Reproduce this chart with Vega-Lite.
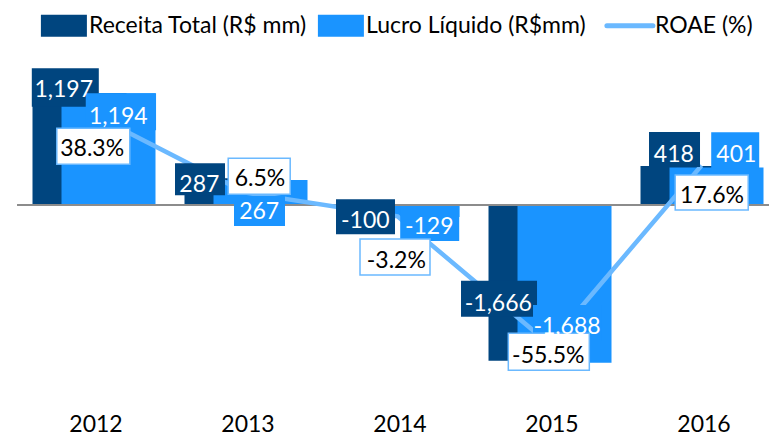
{
  "$schema": "https://vega.github.io/schema/vega-lite/v6.json",
  "width": 751.5,
  "height": 350,
  "autosize": {"type": "none"},
  "padding": {"left": 17.5, "top": 50, "right": 0, "bottom": 36},
  "background": "white",
  "config": {
    "view": {"stroke": null},
    "font": "Lato",
    "locale": {"number": {"decimal": ".", "thousands": ",", "grouping": [3], "currency": ["$", ""], "minus": "-"}}
  },
  "data": {
    "values": [
      {"ano": 2012, "receita": 1197, "lucro": 1194, "roae": 0.383},
      {"ano": 2013, "receita": 287, "lucro": 267, "roae": 0.065},
      {"ano": 2014, "receita": -100, "lucro": -129, "roae": -0.032},
      {"ano": 2015, "receita": -1666, "lucro": -1688, "roae": -0.555},
      {"ano": 2016, "receita": 418, "lucro": 401, "roae": 0.176}
    ]
  },
  "encoding": {
    "x": {
      "field": "ano", "type": "quantitative",
      "scale": {"domain": [2011.5, 2016.444], "nice": false, "zero": false, "padding": 0},
      "axis": {"values": [2012, 2013, 2014, 2015, 2016], "format": "d", "grid": false, "domain": false, "ticks": false, "tickSize": 0, "labelPadding": 13, "labelFont": "Lato", "labelFontSize": 23, "labelColor": "#000000", "labelOffset": 2, "title": null, "labelFlush": false, "labelOverlap": false}
    }
  },
  "layer": [
    {
      "mark": {"type": "bar", "orient": "vertical", "width": 94, "xOffset": -14},
      "encoding": {
        "y": {"field": "receita", "type": "quantitative", "scale": {"domain": [-2085.6, 1657.8], "nice": false}, "axis": null},
        "color": {
          "datum": "Receita Total (R$ mm)", "type": "nominal",
          "scale": {"domain": ["Receita Total (R$ mm)", "Lucro Líquido (R$mm)", "ROAE (%)"], "range": ["#00457F", "#1A94FF", "#6BB9FF"]},
          "legend": {
            "orient": "none", "legendX": 39.5, "legendY": -36, "direction": "horizontal", "title": null,
            "symbolSize": 2116, "labelFont": "Lato", "labelFontSize": 23, "labelColor": "#000000", "labelLimit": 400,
            "columnPadding": 10, "labelOffset": 9,
            "encode": {
              "symbols": {
                "update": {
                  "shape": {"signal": "datum.label === 'ROAE (%)' ? 'M-1.2,0H0.8' : 'M-1.2,-0.478H0.8V0.478H-1.2Z'"},
                  "fill": {"signal": "datum.label === 'ROAE (%)' ? 'transparent' : scale('color', datum.value)"},
                  "stroke": {"signal": "datum.label === 'ROAE (%)' ? scale('color', datum.value) : 'transparent'"},
                  "strokeWidth": {"signal": "datum.label === 'ROAE (%)' ? 5 : 0"},
                  "strokeCap": {"value": "round"},
                  "opacity": {"value": 1}
                }
              }
            }
          }
        }
      }
    },
    {
      "mark": {"type": "bar", "orient": "vertical", "width": 94, "xOffset": 15},
      "encoding": {
        "y": {"field": "lucro", "type": "quantitative", "scale": {"domain": [-2085.6, 1657.8], "nice": false}, "axis": null},
        "color": {"datum": "Lucro Líquido (R$mm)", "type": "nominal", "scale": {"domain": ["Receita Total (R$ mm)", "Lucro Líquido (R$mm)", "ROAE (%)"], "range": ["#00457F", "#1A94FF", "#6BB9FF"]}}
      }
    },
    {
      "mark": {"type": "rule", "color": "#8C8C8C", "strokeWidth": 2},
      "encoding": {
        "x": {"value": 0},
        "x2": {"value": "width"},
        "y": {"datum": 0, "type": "quantitative", "scale": {"domain": [-2085.6, 1657.8], "nice": false}, "axis": null}
      }
    },
    {
      "mark": {"type": "line", "strokeWidth": 4.5},
      "encoding": {
        "y": {"field": "roae", "type": "quantitative", "scale": {"domain": [-0.783, 0.648], "nice": false}, "axis": null},
        "color": {"datum": "ROAE (%)", "type": "nominal", "scale": {"domain": ["Receita Total (R$ mm)", "Lucro Líquido (R$mm)", "ROAE (%)"], "range": ["#00457F", "#1A94FF", "#6BB9FF"]}}
      }
    },
    {
      "encoding": {"y": {"field": "receita", "type": "quantitative", "scale": {"domain": [-2085.6, 1657.8], "nice": false}, "axis": null}},
      "layer": [
        {"transform": [{"filter": "datum.ano == 2012"}], "mark": {"type": "point", "shape": "M-0.67,-0.384H0.67V0.384H-0.67Z", "size": 10000, "filled": true, "fill": "#00457F", "opacity": 1, "strokeWidth": 0, "xOffset": -28.2, "yOffset": -5.6}},
        {"transform": [{"filter": "datum.ano == 2013"}], "mark": {"type": "point", "shape": "M-0.5,-0.32H0.5V0.32H-0.5Z", "size": 10000, "filled": true, "fill": "#00457F", "opacity": 1, "strokeWidth": 0, "xOffset": -45.5, "yOffset": 1}},
        {"transform": [{"filter": "datum.ano == 2014"}], "mark": {"type": "point", "shape": "M-0.59,-0.35H0.59V0.35H-0.59Z", "size": 10000, "filled": true, "fill": "#00457F", "opacity": 1, "strokeWidth": 0, "xOffset": -32, "yOffset": 2.4}},
        {"transform": [{"filter": "datum.ano == 2015"}], "mark": {"type": "point", "shape": "M-0.76,-0.36H0.76V0.36H-0.76Z", "size": 10000, "filled": true, "fill": "#00457F", "opacity": 1, "strokeWidth": 0, "xOffset": -50.5, "yOffset": -62}},
        {"transform": [{"filter": "datum.ano == 2016"}], "mark": {"type": "point", "shape": "M-0.51,-0.35H0.51V0.35H-0.51Z", "size": 10000, "filled": true, "fill": "#00457F", "opacity": 1, "strokeWidth": 0, "xOffset": -27, "yOffset": -16.4}}
      ]
    },
    {
      "encoding": {"y": {"field": "lucro", "type": "quantitative", "scale": {"domain": [-2085.6, 1657.8], "nice": false}, "axis": null}},
      "layer": [
        {"transform": [{"filter": "datum.ano == 2012"}], "mark": {"type": "point", "shape": "M-0.703,-0.37H0.703V0.37H-0.703Z", "size": 10000, "filled": true, "fill": "#1A94FF", "opacity": 1, "strokeWidth": 0, "xOffset": 27.4, "yOffset": 18.3}},
        {"transform": [{"filter": "datum.ano == 2013"}], "mark": {"type": "point", "shape": "M-0.51,-0.3H0.51V0.3H-0.51Z", "size": 10000, "filled": true, "fill": "#1A94FF", "opacity": 1, "strokeWidth": 0, "xOffset": 14, "yOffset": 31}},
        {"transform": [{"filter": "datum.ano == 2014"}], "mark": {"type": "point", "shape": "M-0.59,-0.35H0.59V0.35H-0.59Z", "size": 10000, "filled": true, "fill": "#1A94FF", "opacity": 1, "strokeWidth": 0, "xOffset": 32.2, "yOffset": 6.4}},
        {"transform": [{"filter": "datum.ano == 2015"}], "mark": {"type": "point", "shape": "M-0.68,-0.36H0.68V0.36H-0.68Z", "size": 10000, "filled": true, "fill": "#1A94FF", "opacity": 1, "strokeWidth": 0, "xOffset": 17.5, "yOffset": -39.8}},
        {"transform": [{"filter": "datum.ano == 2016"}], "mark": {"type": "point", "shape": "M-0.48,-0.36H0.48V0.36H-0.48Z", "size": 10000, "filled": true, "fill": "#1A94FF", "opacity": 1, "strokeWidth": 0, "xOffset": 33.7, "yOffset": -17.2}}
      ]
    },
    {
      "encoding": {"y": {"field": "roae", "type": "quantitative", "scale": {"domain": [-0.783, 0.648], "nice": false}, "axis": null}},
      "layer": [
        {"transform": [{"filter": "datum.ano == 2012"}], "mark": {"type": "point", "shape": "M-0.73,-0.36H0.73V0.36H-0.73Z", "size": 10000, "filled": true, "fill": "#FFFFFF", "stroke": "#6BB9FF", "strokeWidth": 1.5, "opacity": 1, "xOffset": -0.2, "yOffset": 31.4}},
        {"transform": [{"filter": "datum.ano == 2013"}], "mark": {"type": "point", "shape": "M-0.62,-0.36H0.62V0.36H-0.62Z", "size": 10000, "filled": true, "fill": "#FFFFFF", "stroke": "#6BB9FF", "strokeWidth": 1.5, "opacity": 1, "xOffset": 13.7, "yOffset": -16.4}},
        {"transform": [{"filter": "datum.ano == 2014"}], "mark": {"type": "point", "shape": "M-0.7,-0.36H0.7V0.36H-0.7Z", "size": 10000, "filled": true, "fill": "#FFFFFF", "stroke": "#6BB9FF", "strokeWidth": 1.5, "opacity": 1, "xOffset": -2.5, "yOffset": 40.7}},
        {"transform": [{"filter": "datum.ano == 2015"}], "mark": {"type": "point", "shape": "M-0.81,-0.37H0.81V0.37H-0.81Z", "size": 10000, "filled": true, "fill": "#FFFFFF", "stroke": "#6BB9FF", "strokeWidth": 1.5, "opacity": 1, "xOffset": -0.7, "yOffset": 7.4}},
        {"transform": [{"filter": "datum.ano == 2016"}], "mark": {"type": "point", "shape": "M-0.73,-0.35H0.73V0.35H-0.73Z", "size": 10000, "filled": true, "fill": "#FFFFFF", "stroke": "#6BB9FF", "strokeWidth": 1.5, "opacity": 1, "xOffset": 10.2, "yOffset": 27}}
      ]
    },
    {
      "encoding": {
        "y": {"field": "receita", "type": "quantitative", "scale": {"domain": [-2085.6, 1657.8], "nice": false}, "axis": null},
        "text": {"field": "receita", "type": "quantitative", "format": ","}
      },
      "layer": [
        {"transform": [{"filter": "datum.ano == 2012"}], "mark": {"type": "text", "fontSize": 23, "fill": "#FFFFFF", "xOffset": -29.8, "yOffset": -3.4}},
        {"transform": [{"filter": "datum.ano == 2013"}], "mark": {"type": "text", "fontSize": 23, "fill": "#FFFFFF", "xOffset": -46.2, "yOffset": 6.5}},
        {"transform": [{"filter": "datum.ano == 2014"}], "mark": {"type": "text", "fontSize": 23, "fill": "#FFFFFF", "xOffset": -32.2, "yOffset": 6.2}},
        {"transform": [{"filter": "datum.ano == 2015"}], "mark": {"type": "text", "fontSize": 23, "fill": "#FFFFFF", "xOffset": -51.2, "yOffset": -56.6}},
        {"transform": [{"filter": "datum.ano == 2016"}], "mark": {"type": "text", "fontSize": 23, "fill": "#FFFFFF", "xOffset": -27.7, "yOffset": -11.2}}
      ]
    },
    {
      "encoding": {
        "y": {"field": "lucro", "type": "quantitative", "scale": {"domain": [-2085.6, 1657.8], "nice": false}, "axis": null},
        "text": {"field": "lucro", "type": "quantitative", "format": ","}
      },
      "layer": [
        {"transform": [{"filter": "datum.ano == 2012"}], "mark": {"type": "text", "fontSize": 23, "fill": "#FFFFFF", "xOffset": 24.8, "yOffset": 23.8}},
        {"transform": [{"filter": "datum.ano == 2013"}], "mark": {"type": "text", "fontSize": 23, "fill": "#FFFFFF", "xOffset": 13.7, "yOffset": 32.2}},
        {"transform": [{"filter": "datum.ano == 2014"}], "mark": {"type": "text", "fontSize": 23, "fill": "#FFFFFF", "xOffset": 31.7, "yOffset": 9.6}},
        {"transform": [{"filter": "datum.ano == 2015"}], "mark": {"type": "text", "fontSize": 23, "fill": "#FFFFFF", "xOffset": 17.5, "yOffset": -35.6}},
        {"transform": [{"filter": "datum.ano == 2016"}], "mark": {"type": "text", "fontSize": 23, "fill": "#FFFFFF", "xOffset": 34.8, "yOffset": -12.8}}
      ]
    },
    {
      "encoding": {
        "y": {"field": "roae", "type": "quantitative", "scale": {"domain": [-0.783, 0.648], "nice": false}, "axis": null},
        "text": {"field": "roae", "type": "quantitative", "format": ".1%"}
      },
      "layer": [
        {"transform": [{"filter": "datum.ano == 2012"}], "mark": {"type": "text", "fontSize": 23, "fill": "#000000", "xOffset": -1.3, "yOffset": 34.1}},
        {"transform": [{"filter": "datum.ano == 2013"}], "mark": {"type": "text", "fontSize": 23, "fill": "#000000", "xOffset": 14.5, "yOffset": -13.7}},
        {"transform": [{"filter": "datum.ano == 2014"}], "mark": {"type": "text", "fontSize": 23, "fill": "#000000", "xOffset": -1.2, "yOffset": 44.6}},
        {"transform": [{"filter": "datum.ano == 2015"}], "mark": {"type": "text", "fontSize": 23, "fill": "#000000", "xOffset": -1.2, "yOffset": 11.8}},
        {"transform": [{"filter": "datum.ano == 2016"}], "mark": {"type": "text", "fontSize": 23, "fill": "#000000", "xOffset": 10.5, "yOffset": 30.1}}
      ]
    }
  ],
  "resolve": {"scale": {"y": "independent"}}
}
